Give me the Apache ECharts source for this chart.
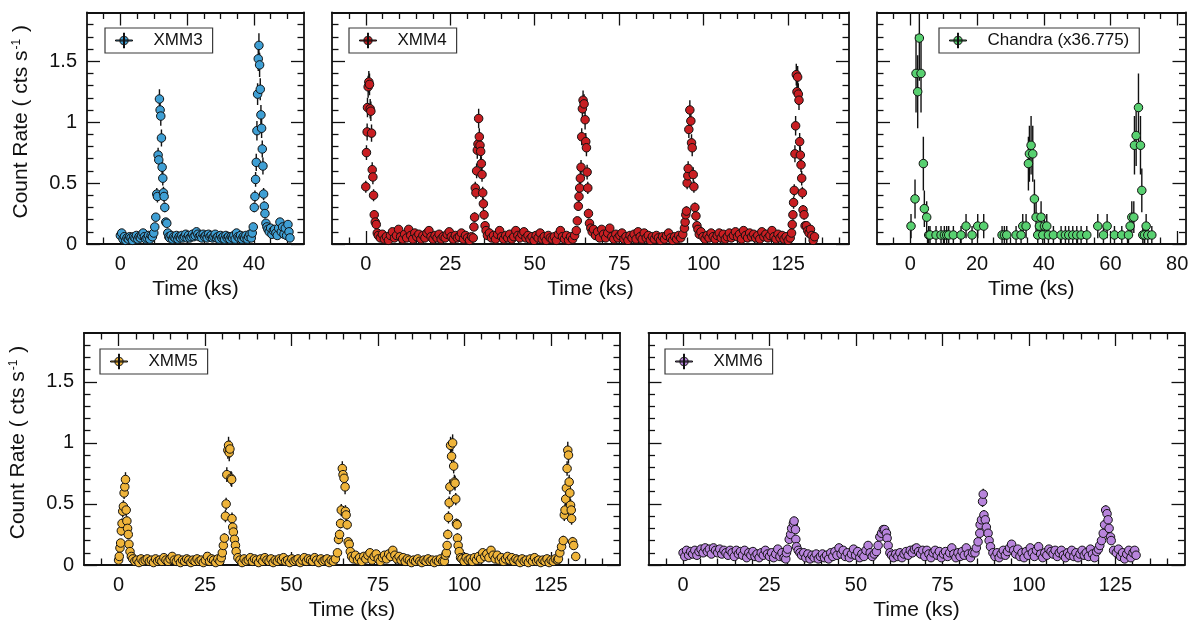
<!DOCTYPE html>
<html><head><meta charset="utf-8">
<script src="https://cdn.jsdelivr.net/npm/echarts@6/dist/echarts.min.js"></script>
<style>html,body{margin:0;padding:0;background:#fff}#c{width:1195px;height:627px}</style>
</head><body><div id="c"></div>
<script>
// ---------------- data: [time (ks), count rate, error] ----------------
const xmm3 = [
[0.0,0.07,0.02],[0.4,0.09,0.02],[0.8,0.04,0.02],[1.2,0.06,0.02],[1.6,0.03,0.02],[2.0,0.05,0.02],[2.4,0.04,0.02],[2.8,0.06,0.02],[3.2,0.05,0.02],[3.6,0.03,0.02],[4.0,0.06,0.02],[4.4,0.05,0.02],[4.8,0.07,0.02],[5.2,0.04,0.02],[5.6,0.06,0.02],[6.0,0.05,0.02],[6.4,0.07,0.02],[6.8,0.09,0.02],[7.2,0.06,0.02],[7.6,0.04,0.02],[8.0,0.05,0.02],[8.4,0.07,0.02],[8.8,0.04,0.02],[9.2,0.07,0.02],[9.6,0.06,0.02],
[10.0,0.09,0.02],[10.3,0.14,0.03],[10.6,0.22,0.03],[10.9,0.41,0.05],[11.1,0.39,0.05],[11.3,0.73,0.06],[11.5,0.69,0.06],[11.7,1.19,0.08],[11.9,1.10,0.08],[12.1,1.05,0.08],[12.3,0.87,0.07],[12.5,0.63,0.06],[12.7,0.54,0.06],[12.9,0.42,0.05],[13.1,0.39,0.05],[13.3,0.30,0.04],[13.6,0.18,0.03],[13.9,0.17,0.03],[14.2,0.09,0.02],[14.5,0.06,0.02],
[14.8,0.05,0.02],[15.2,0.07,0.02],[15.6,0.04,0.02],[16.0,0.06,0.02],[16.4,0.05,0.02],[16.8,0.07,0.02],[17.2,0.04,0.02],[17.6,0.06,0.02],[18.0,0.05,0.02],[18.4,0.07,0.02],[18.8,0.05,0.02],[19.2,0.06,0.02],[19.6,0.08,0.02],[20.0,0.05,0.02],[20.4,0.07,0.02],[20.8,0.05,0.02],[21.2,0.06,0.02],[21.6,0.08,0.02],[22.0,0.06,0.02],[22.4,0.07,0.02],[22.8,0.10,0.02],[23.2,0.08,0.02],[23.6,0.06,0.02],[24.0,0.07,0.02],[24.4,0.05,0.02],[24.8,0.08,0.02],[25.2,0.06,0.02],[25.6,0.07,0.02],[26.0,0.05,0.02],[26.4,0.08,0.02],[26.8,0.06,0.02],[27.2,0.07,0.02],[27.6,0.05,0.02],[28.0,0.06,0.02],[28.4,0.08,0.02],[28.8,0.05,0.02],[29.2,0.06,0.02],[29.6,0.04,0.02],[30.0,0.07,0.02],[30.4,0.05,0.02],[30.8,0.06,0.02],[31.2,0.04,0.02],[31.6,0.07,0.02],[32.0,0.05,0.02],[32.4,0.06,0.02],[32.8,0.04,0.02],[33.2,0.06,0.02],[33.6,0.05,0.02],[34.0,0.07,0.02],[34.4,0.04,0.02],[34.8,0.09,0.02],[35.2,0.06,0.02],[35.6,0.05,0.02],[36.0,0.07,0.02],[36.4,0.04,0.02],[36.8,0.06,0.02],[37.2,0.05,0.02],[37.6,0.07,0.02],[38.0,0.04,0.02],[38.4,0.06,0.02],[38.8,0.08,0.02],[39.2,0.05,0.02],[39.5,0.09,0.02],
[39.8,0.14,0.03],[40.1,0.30,0.04],[40.3,0.39,0.05],[40.5,0.53,0.06],[40.7,0.67,0.07],[40.9,0.93,0.08],[41.1,1.23,0.09],[41.3,1.52,0.10],[41.5,1.63,0.10],[41.7,1.47,0.10],[41.9,1.27,0.09],[42.1,1.06,0.08],[42.3,0.95,0.08],[42.5,0.78,0.07],[42.7,0.64,0.07],[42.9,0.41,0.05],[43.1,0.31,0.04],[43.3,0.25,0.04],[43.6,0.17,0.03],[43.9,0.14,0.03],
[44.2,0.12,0.03],[44.6,0.10,0.03],[45.0,0.13,0.03],[45.4,0.08,0.02],[45.8,0.11,0.03],[46.2,0.12,0.03],[46.6,0.09,0.02],[47.0,0.07,0.02],[47.4,0.13,0.03],[47.8,0.18,0.03],[48.2,0.10,0.03],[48.6,0.14,0.03],[49.0,0.08,0.02],[49.4,0.13,0.03],[49.8,0.07,0.02],[50.2,0.16,0.03],[50.5,0.10,0.03],[50.8,0.05,0.02]
];

const xmm4 = [
[0.0,0.47,0.05],[0.2,0.75,0.06],[0.4,0.92,0.07],[0.5,1.12,0.08],[0.7,1.29,0.09],[0.9,1.33,0.09],[1.1,1.31,0.09],[1.3,1.11,0.08],[1.5,1.09,0.08],[1.7,0.91,0.07],[1.9,0.61,0.06],[2.1,0.55,0.06],[2.3,0.40,0.05],[2.5,0.24,0.04],[2.8,0.18,0.03],[3.1,0.16,0.03],[3.4,0.09,0.02],
[3.7,0.07,0.02],[4.3,0.05,0.02],[4.9,0.08,0.02],[5.5,0.04,0.02],[6.1,0.06,0.02],[6.7,0.03,0.02],[7.3,0.07,0.02],[7.9,0.10,0.02],[8.5,0.05,0.02],[9.1,0.07,0.02],[9.7,0.12,0.03],[10.3,0.06,0.02],[10.9,0.04,0.02],[11.5,0.08,0.02],[12.1,0.05,0.02],[12.7,0.12,0.03],[13.3,0.07,0.02],[13.9,0.04,0.02],[14.5,0.09,0.02],[15.1,0.06,0.02],[15.7,0.08,0.02],[16.3,0.04,0.02],[16.9,0.07,0.02],[17.5,0.05,0.02],[18.1,0.09,0.02],[18.7,0.11,0.03],[19.3,0.06,0.02],[19.9,0.04,0.02],[20.5,0.07,0.02],[21.1,0.05,0.02],[21.7,0.08,0.02],[22.3,0.04,0.02],[22.9,0.06,0.02],[23.5,0.05,0.02],[24.1,0.08,0.02],[24.7,0.10,0.02],[25.3,0.06,0.02],[25.9,0.04,0.02],[26.5,0.07,0.02],[27.1,0.05,0.02],[27.7,0.06,0.02],[28.3,0.09,0.02],[28.9,0.04,0.02],[29.5,0.07,0.02],[30.1,0.05,0.02],[30.7,0.03,0.02],[31.3,0.06,0.02],
[31.8,0.05,0.02],[32.0,0.14,0.03],[32.2,0.22,0.04],[32.4,0.46,0.05],[32.6,0.42,0.05],[32.8,0.60,0.06],[33.0,0.77,0.07],[33.2,0.82,0.07],[33.4,1.03,0.08],[33.6,0.88,0.07],[33.8,0.81,0.07],[34.0,0.76,0.07],[34.2,0.66,0.06],[34.4,0.57,0.06],[34.6,0.42,0.05],[34.8,0.33,0.05],[35.0,0.24,0.04],[35.3,0.15,0.03],[35.6,0.11,0.03],[36.0,0.07,0.02],
[36.6,0.09,0.02],[37.2,0.05,0.02],[37.8,0.07,0.02],[38.4,0.04,0.02],[39.0,0.08,0.02],[39.6,0.11,0.03],[40.2,0.06,0.02],[40.8,0.04,0.02],[41.4,0.07,0.02],[42.0,0.05,0.02],[42.6,0.08,0.02],[43.2,0.04,0.02],[43.8,0.06,0.02],[44.4,0.11,0.03],[45.0,0.07,0.02],[45.6,0.05,0.02],[46.2,0.08,0.02],[46.8,0.10,0.02],[47.4,0.05,0.02],[48.0,0.07,0.02],[48.6,0.04,0.02],[49.2,0.06,0.02],[49.8,0.03,0.02],[50.4,0.07,0.02],[51.0,0.05,0.02],[51.6,0.09,0.02],[52.2,0.04,0.02],[52.8,0.06,0.02],[53.4,0.03,0.02],[54.0,0.07,0.02],[54.6,0.05,0.02],[55.2,0.04,0.02],[55.8,0.06,0.02],[56.4,0.03,0.02],[57.0,0.08,0.02],[57.6,0.11,0.03],[58.2,0.06,0.02],[58.8,0.04,0.02],[59.4,0.07,0.02],[60.0,0.03,0.02],[60.6,0.06,0.02],[61.2,0.04,0.02],[61.8,0.07,0.02],
[62.3,0.11,0.03],[62.6,0.19,0.03],[62.9,0.31,0.04],[63.1,0.39,0.05],[63.3,0.46,0.05],[63.5,0.54,0.06],[63.7,0.63,0.06],[63.9,0.88,0.07],[64.1,1.11,0.08],[64.3,1.18,0.08],[64.6,1.15,0.08],[64.9,1.02,0.08],[65.1,0.84,0.07],[65.3,0.79,0.07],[65.5,0.59,0.06],[65.7,0.46,0.05],[65.9,0.25,0.04],[66.2,0.17,0.03],[66.6,0.13,0.03],[67.0,0.10,0.02],
[67.4,0.12,0.03],[68.0,0.07,0.02],[68.6,0.10,0.02],[69.2,0.05,0.02],[69.8,0.12,0.03],[70.4,0.08,0.02],[71.0,0.05,0.02],[71.6,0.09,0.02],[72.2,0.13,0.03],[72.8,0.06,0.02],[73.4,0.04,0.02],[74.0,0.08,0.02],[74.6,0.05,0.02],[75.2,0.07,0.02],[75.8,0.09,0.02],[76.4,0.04,0.02],[77.0,0.06,0.02],[77.6,0.03,0.02],[78.2,0.07,0.02],[78.8,0.05,0.02],[79.4,0.08,0.02],[80.0,0.04,0.02],[80.6,0.10,0.02],[81.2,0.06,0.02],[81.8,0.04,0.02],[82.4,0.09,0.02],[83.0,0.05,0.02],[83.6,0.07,0.02],[84.2,0.03,0.02],[84.8,0.06,0.02],[85.4,0.04,0.02],[86.0,0.07,0.02],[86.6,0.05,0.02],[87.2,0.03,0.02],[87.8,0.06,0.02],[88.4,0.04,0.02],[89.0,0.07,0.02],[89.6,0.09,0.02],[90.2,0.05,0.02],[90.8,0.03,0.02],[91.4,0.06,0.02],[92.0,0.04,0.02],[92.6,0.07,0.02],[93.2,0.05,0.02],[93.8,0.08,0.02],
[94.3,0.13,0.03],[94.5,0.18,0.03],[94.7,0.24,0.04],[94.9,0.27,0.04],[95.1,0.50,0.05],[95.3,0.56,0.06],[95.4,0.62,0.06],[95.6,0.94,0.07],[95.9,1.10,0.08],[96.2,1.01,0.08],[96.4,0.83,0.07],[96.6,0.79,0.07],[96.9,0.57,0.06],[97.1,0.47,0.05],[97.4,0.30,0.04],[97.7,0.23,0.04],[98.0,0.15,0.03],[98.3,0.12,0.03],[98.7,0.08,0.02],
[99.2,0.10,0.02],[99.8,0.06,0.02],[100.4,0.04,0.02],[101.0,0.07,0.02],[101.6,0.05,0.02],[102.2,0.09,0.02],[102.8,0.06,0.02],[103.4,0.04,0.02],[104.0,0.07,0.02],[104.6,0.09,0.02],[105.2,0.05,0.02],[105.8,0.08,0.02],[106.4,0.04,0.02],[107.0,0.06,0.02],[107.6,0.09,0.02],[108.2,0.05,0.02],[108.8,0.07,0.02],[109.4,0.10,0.02],[110.0,0.06,0.02],[110.6,0.08,0.02],[111.2,0.04,0.02],[111.8,0.11,0.03],[112.4,0.07,0.02],[113.0,0.05,0.02],[113.6,0.09,0.02],[114.2,0.06,0.02],[114.8,0.08,0.02],[115.4,0.05,0.02],[116.0,0.07,0.02],[116.6,0.04,0.02],[117.2,0.10,0.02],[117.8,0.06,0.02],[118.4,0.08,0.02],[119.0,0.05,0.02],[119.6,0.07,0.02],[120.2,0.11,0.03],[120.8,0.06,0.02],[121.4,0.04,0.02],[122.0,0.08,0.02],[122.6,0.05,0.02],[123.2,0.07,0.02],[123.8,0.04,0.02],[124.4,0.06,0.02],[125.0,0.03,0.02],[125.6,0.05,0.02],
[126.0,0.09,0.02],[126.2,0.16,0.03],[126.4,0.24,0.04],[126.6,0.34,0.05],[126.8,0.44,0.05],[127.0,0.74,0.07],[127.2,0.97,0.08],[127.4,1.39,0.09],[127.6,1.25,0.09],[127.8,1.37,0.09],[128.0,1.23,0.09],[128.2,1.18,0.08],[128.4,0.84,0.07],[128.6,0.73,0.07],[128.8,0.65,0.06],[129.0,0.54,0.06],[129.2,0.42,0.05],[129.4,0.28,0.04],[129.7,0.24,0.04],[130.0,0.15,0.03],[130.4,0.15,0.03],[130.8,0.11,0.03],[131.2,0.09,0.02],[131.6,0.12,0.03],[132.0,0.07,0.02],[132.4,0.03,0.02],[132.8,0.06,0.02]
];

const chandra = [
[0.2,0.147,0.10],[1.4,0.37,0.16],[1.7,1.40,0.32],[2.2,1.25,0.30],[2.7,1.69,0.35],[3.2,1.40,0.32],[3.9,0.66,0.22],[4.2,0.29,0.15],[4.9,0.22,0.13],[5.5,0.074,0.074],[5.9,0.074,0.074],[7.7,0.074,0.074],[9.2,0.074,0.074],[10.2,0.074,0.074],[10.9,0.074,0.074],[11.5,0.074,0.074],[12.9,0.074,0.074],[15.2,0.074,0.074],[16.7,0.147,0.10],[18.5,0.074,0.074],[20.2,0.147,0.10],[22.0,0.147,0.10],
[27.5,0.074,0.074],[28.2,0.074,0.074],[28.9,0.074,0.074],[31.7,0.074,0.074],[33.2,0.074,0.074],[33.7,0.147,0.10],[34.7,0.147,0.10],[35.4,0.66,0.22],[35.7,0.74,0.23],[36.2,0.81,0.24],[36.7,0.74,0.23],[37.2,0.37,0.16],[37.7,0.22,0.13],[38.2,0.074,0.074],[38.7,0.147,0.10],[39.2,0.22,0.13],[39.7,0.074,0.074],[40.2,0.147,0.10],[40.9,0.147,0.10],[41.4,0.074,0.074],[42.9,0.074,0.074],[45.2,0.074,0.074],[46.5,0.074,0.074],[47.5,0.074,0.074],[48.7,0.074,0.074],[49.9,0.074,0.074],[51.2,0.074,0.074],[52.9,0.074,0.074],
[56.2,0.147,0.10],[57.9,0.074,0.074],[59.0,0.147,0.10],[61.2,0.074,0.074],[63.4,0.074,0.074],[65.4,0.074,0.074],[65.9,0.147,0.10],[66.4,0.22,0.13],[67.0,0.22,0.13],[67.2,0.81,0.24],[67.7,0.89,0.25],[68.4,1.12,0.28],[69.0,0.81,0.24],[69.4,0.44,0.18],[69.7,0.074,0.074],[70.2,0.074,0.074],[70.7,0.147,0.10],[71.2,0.074,0.074],[72.4,0.074,0.074]
];

const xmm5 = [
[0.0,0.04,0.02],[0.2,0.07,0.02],[0.4,0.14,0.03],[0.6,0.18,0.03],[0.8,0.28,0.04],[1.0,0.34,0.04],[1.2,0.44,0.05],[1.4,0.48,0.05],[1.6,0.59,0.05],[1.8,0.64,0.06],[2.0,0.70,0.06],[2.2,0.45,0.05],[2.4,0.36,0.04],[2.6,0.30,0.04],[2.8,0.25,0.04],[3.0,0.17,0.03],[3.3,0.11,0.03],[3.7,0.07,0.02],
[4.1,0.05,0.02],[4.7,0.03,0.02],[5.3,0.04,0.02],[5.9,0.02,0.02],[6.5,0.05,0.02],[7.1,0.03,0.02],[7.7,0.04,0.02],[8.3,0.05,0.02],[8.9,0.03,0.02],[9.5,0.04,0.02],[10.1,0.02,0.02],[10.7,0.05,0.02],[11.3,0.03,0.02],[11.9,0.04,0.02],[12.5,0.03,0.02],[13.1,0.06,0.02],[13.7,0.04,0.02],[14.3,0.03,0.02],[14.9,0.05,0.02],[15.5,0.07,0.02],[16.1,0.04,0.02],[16.7,0.03,0.02],[17.3,0.05,0.02],[17.9,0.02,0.02],[18.5,0.04,0.02],[19.1,0.03,0.02],[19.7,0.05,0.02],[20.3,0.04,0.02],[20.9,0.02,0.02],[21.5,0.04,0.02],[22.1,0.03,0.02],[22.7,0.05,0.02],[23.3,0.03,0.02],[23.9,0.04,0.02],[24.5,0.02,0.02],[25.1,0.04,0.02],[25.7,0.07,0.02],[26.3,0.03,0.02],[26.9,0.05,0.02],[27.5,0.04,0.02],[28.1,0.02,0.02],[28.7,0.05,0.02],[29.3,0.03,0.02],[29.7,0.06,0.02],
[30.0,0.10,0.03],[30.3,0.16,0.03],[30.6,0.22,0.04],[30.9,0.40,0.05],[31.1,0.50,0.05],[31.3,0.74,0.06],[31.6,0.94,0.07],[31.8,0.98,0.07],[32.0,0.92,0.07],[32.2,0.95,0.07],[32.5,0.71,0.06],[32.7,0.70,0.06],[32.8,0.38,0.05],[33.0,0.31,0.04],[33.2,0.27,0.04],[33.5,0.21,0.04],[33.8,0.16,0.03],[34.0,0.11,0.03],[34.5,0.06,0.02],
[35.1,0.04,0.02],[35.7,0.02,0.02],[36.3,0.05,0.02],[36.9,0.03,0.02],[37.5,0.04,0.02],[38.1,0.06,0.02],[38.7,0.03,0.02],[39.3,0.05,0.02],[39.9,0.04,0.02],[40.5,0.02,0.02],[41.1,0.05,0.02],[41.7,0.03,0.02],[42.3,0.06,0.02],[42.9,0.04,0.02],[43.5,0.03,0.02],[44.1,0.05,0.02],[44.7,0.02,0.02],[45.3,0.04,0.02],[45.9,0.03,0.02],[46.5,0.05,0.02],[47.1,0.04,0.02],[47.7,0.06,0.02],[48.3,0.03,0.02],[48.9,0.04,0.02],[49.5,0.02,0.02],[50.1,0.05,0.02],[50.7,0.03,0.02],[51.3,0.04,0.02],[51.9,0.05,0.02],[52.5,0.02,0.02],[53.1,0.04,0.02],[53.7,0.06,0.02],[54.3,0.03,0.02],[54.9,0.05,0.02],[55.5,0.04,0.02],[56.1,0.03,0.02],[56.7,0.06,0.02],[57.3,0.04,0.02],[57.9,0.02,0.02],[58.5,0.05,0.02],[59.1,0.03,0.02],[59.7,0.04,0.02],[60.3,0.05,0.02],[60.9,0.02,0.02],[61.5,0.04,0.02],[62.1,0.03,0.02],[62.7,0.05,0.02],
[63.3,0.10,0.03],[63.6,0.21,0.04],[63.9,0.25,0.04],[64.2,0.34,0.04],[64.4,0.45,0.05],[64.7,0.79,0.06],[64.9,0.74,0.06],[65.2,0.71,0.06],[65.5,0.64,0.06],[65.6,0.44,0.05],[65.8,0.41,0.05],[66.1,0.33,0.04],[66.4,0.19,0.03],[66.7,0.17,0.03],[67.0,0.11,0.03],[67.4,0.07,0.02],
[67.9,0.05,0.02],[68.5,0.08,0.02],[69.1,0.04,0.02],[69.7,0.06,0.02],[70.3,0.03,0.02],[70.9,0.07,0.02],[71.5,0.05,0.02],[72.1,0.08,0.02],[72.7,0.10,0.02],[73.3,0.04,0.02],[73.9,0.07,0.02],[74.5,0.09,0.02],[75.1,0.05,0.02],[75.7,0.03,0.02],[76.3,0.06,0.02],[76.9,0.08,0.02],[77.5,0.05,0.02],[78.1,0.09,0.02],[78.7,0.07,0.02],[79.3,0.12,0.03],[79.9,0.08,0.02],[80.5,0.05,0.02],[81.1,0.07,0.02],[81.7,0.04,0.02],[82.3,0.06,0.02],[82.9,0.03,0.02],[83.5,0.05,0.02],[84.1,0.04,0.02],[84.7,0.02,0.02],[85.3,0.04,0.02],[85.9,0.03,0.02],[86.5,0.05,0.02],[87.1,0.03,0.02],[87.7,0.02,0.02],[88.3,0.04,0.02],[88.9,0.03,0.02],[89.5,0.05,0.02],[90.1,0.03,0.02],[90.7,0.04,0.02],[91.3,0.02,0.02],[91.9,0.04,0.02],[92.5,0.03,0.02],[93.1,0.05,0.02],[93.7,0.03,0.02],
[94.2,0.03,0.02],[94.5,0.08,0.02],[94.8,0.10,0.03],[95.0,0.16,0.03],[95.2,0.25,0.04],[95.4,0.39,0.05],[95.6,0.51,0.05],[95.8,0.64,0.06],[96.0,0.98,0.07],[96.3,0.89,0.07],[96.6,1.00,0.07],[96.9,0.81,0.06],[97.1,0.68,0.06],[97.3,0.67,0.06],[97.5,0.54,0.05],[97.7,0.34,0.04],[97.9,0.33,0.04],[98.0,0.22,0.04],[98.2,0.16,0.03],[98.5,0.11,0.03],[98.9,0.06,0.02],
[99.3,0.05,0.02],[99.9,0.03,0.02],[100.5,0.06,0.02],[101.1,0.04,0.02],[101.7,0.05,0.02],[102.3,0.03,0.02],[102.9,0.06,0.02],[103.5,0.04,0.02],[104.1,0.07,0.02],[104.7,0.05,0.02],[105.3,0.10,0.02],[105.9,0.07,0.02],[106.5,0.09,0.02],[107.1,0.06,0.02],[107.7,0.12,0.03],[108.3,0.08,0.02],[108.9,0.05,0.02],[109.5,0.08,0.02],[110.1,0.04,0.02],[110.7,0.06,0.02],[111.3,0.03,0.02],[111.9,0.05,0.02],[112.5,0.07,0.02],[113.1,0.04,0.02],[113.7,0.06,0.02],[114.3,0.03,0.02],[114.9,0.05,0.02],[115.5,0.04,0.02],[116.1,0.02,0.02],[116.7,0.05,0.02],[117.3,0.03,0.02],[117.9,0.04,0.02],[118.5,0.02,0.02],[119.1,0.05,0.02],[119.7,0.03,0.02],[120.3,0.06,0.02],[120.9,0.03,0.02],[121.5,0.04,0.02],[122.1,0.02,0.02],[122.7,0.04,0.02],[123.3,0.03,0.02],[123.9,0.05,0.02],[124.5,0.02,0.02],[125.1,0.04,0.02],[125.7,0.03,0.02],[126.3,0.05,0.02],[126.9,0.04,0.02],
[127.2,0.05,0.02],[127.6,0.10,0.03],[128.1,0.15,0.03],[128.6,0.20,0.04],[128.9,0.41,0.05],[129.1,0.45,0.05],[129.3,0.54,0.05],[129.5,0.63,0.06],[129.7,0.79,0.06],[129.9,0.94,0.07],[130.1,0.90,0.07],[130.3,0.68,0.06],[130.5,0.59,0.06],[130.7,0.49,0.05],[130.9,0.45,0.05],[131.0,0.38,0.05],[131.3,0.19,0.04],[131.6,0.16,0.03],[132.2,0.07,0.02]
];

const xmm6 = [
[0.0,0.10,0.025],[0.5,0.07,0.025],[1.0,0.12,0.025],[1.6,0.08,0.025],[2.2,0.11,0.025],[2.8,0.09,0.025],[3.4,0.12,0.025],[4.0,0.08,0.025],[4.6,0.11,0.025],[5.2,0.13,0.025],[5.8,0.10,0.025],[6.4,0.14,0.025],[7.0,0.11,0.025],[7.6,0.13,0.025],[8.2,0.09,0.025],[8.8,0.14,0.025],[9.4,0.12,0.025],[10.0,0.10,0.025],[10.6,0.13,0.025],[11.2,0.09,0.025],[11.8,0.12,0.025],[12.4,0.10,0.025],[13.0,0.08,0.025],[13.6,0.12,0.025],[14.2,0.10,0.025],[14.8,0.07,0.025],[15.4,0.12,0.025],[16.0,0.09,0.025],[16.6,0.11,0.025],[17.2,0.08,0.025],[17.8,0.12,0.025],[18.4,0.06,0.025],[19.0,0.10,0.025],[19.6,0.08,0.025],[20.2,0.11,0.025],[20.8,0.07,0.025],[21.4,0.09,0.025],[22.0,0.06,0.025],[22.6,0.10,0.025],[23.2,0.08,0.025],[23.8,0.12,0.025],[24.4,0.09,0.025],[25.0,0.07,0.025],[25.6,0.10,0.025],[26.2,0.06,0.025],[26.8,0.09,0.025],[27.4,0.13,0.025],[28.0,0.07,0.025],[28.6,0.10,0.025],[29.2,0.06,0.025],
[29.7,0.05,0.025],[29.9,0.10,0.025],[30.2,0.13,0.025],[30.7,0.21,0.03],[31.1,0.25,0.03],[31.4,0.30,0.035],[31.9,0.34,0.035],[32.1,0.36,0.035],[32.5,0.29,0.03],[32.6,0.21,0.03],[32.8,0.15,0.03],[33.3,0.12,0.025],[33.8,0.10,0.025],
[34.3,0.08,0.025],[34.9,0.10,0.025],[35.5,0.06,0.025],[36.1,0.09,0.025],[36.7,0.05,0.025],[37.3,0.08,0.025],[37.9,0.06,0.025],[38.5,0.09,0.025],[39.1,0.05,0.025],[39.7,0.07,0.025],[40.3,0.09,0.025],[40.9,0.06,0.025],[41.5,0.08,0.025],[42.1,0.05,0.025],[42.7,0.10,0.025],[43.3,0.07,0.025],[43.9,0.11,0.025],[44.5,0.08,0.025],[45.1,0.14,0.025],[45.7,0.09,0.025],[46.3,0.12,0.025],[46.9,0.07,0.025],[47.5,0.10,0.025],[48.1,0.06,0.025],[48.7,0.09,0.025],[49.3,0.13,0.025],[49.9,0.08,0.025],[50.5,0.11,0.025],[51.1,0.06,0.025],[51.7,0.09,0.025],[52.3,0.07,0.025],[52.9,0.12,0.025],[53.5,0.16,0.03],[54.1,0.10,0.025],[54.7,0.07,0.025],[55.3,0.09,0.025],
[55.9,0.11,0.025],[56.4,0.16,0.03],[56.9,0.23,0.03],[57.4,0.26,0.03],[57.9,0.29,0.035],[58.3,0.29,0.035],[58.8,0.26,0.03],[59.0,0.22,0.03],[59.3,0.16,0.03],[59.8,0.10,0.025],
[60.3,0.08,0.025],[60.9,0.06,0.025],[61.5,0.09,0.025],[62.1,0.07,0.025],[62.7,0.10,0.025],[63.3,0.06,0.025],[63.9,0.09,0.025],[64.5,0.11,0.025],[65.1,0.08,0.025],[65.7,0.12,0.025],[66.3,0.10,0.025],[66.9,0.13,0.025],[67.5,0.14,0.025],[68.1,0.11,0.025],[68.7,0.09,0.025],[69.3,0.12,0.025],[69.9,0.07,0.025],[70.5,0.12,0.025],[71.1,0.09,0.025],[71.7,0.06,0.025],[72.3,0.10,0.025],[72.9,0.12,0.025],[73.5,0.08,0.025],[74.1,0.11,0.025],[74.7,0.06,0.025],[75.3,0.09,0.025],[75.9,0.11,0.025],[76.5,0.07,0.025],[77.1,0.10,0.025],[77.7,0.14,0.025],[78.3,0.09,0.025],[78.9,0.06,0.025],[79.5,0.10,0.025],[80.1,0.07,0.025],[80.7,0.11,0.025],[81.3,0.08,0.025],[81.9,0.14,0.025],[82.5,0.09,0.025],[83.1,0.06,0.025],[83.7,0.10,0.025],
[84.4,0.10,0.025],[84.8,0.14,0.025],[85.3,0.19,0.03],[85.8,0.26,0.03],[85.9,0.33,0.035],[86.3,0.37,0.035],[86.6,0.52,0.045],[86.8,0.58,0.045],[87.0,0.41,0.04],[87.4,0.37,0.035],[87.7,0.31,0.035],[88.2,0.26,0.03],[88.5,0.20,0.03],[88.9,0.15,0.025],[89.6,0.10,0.025],
[90.2,0.07,0.025],[90.8,0.10,0.025],[91.4,0.06,0.025],[92.0,0.09,0.025],[92.6,0.12,0.025],[93.2,0.08,0.025],[93.8,0.11,0.025],[94.4,0.14,0.025],[95.0,0.17,0.03],[95.6,0.12,0.025],[96.2,0.09,0.025],[96.8,0.13,0.025],[97.4,0.07,0.025],[98.0,0.10,0.025],[98.6,0.06,0.025],[99.2,0.11,0.025],[99.8,0.08,0.025],[100.4,0.14,0.025],[101.0,0.10,0.025],[101.6,0.07,0.025],[102.2,0.12,0.025],[102.8,0.15,0.03],[103.4,0.09,0.025],[104.0,0.06,0.025],[104.6,0.10,0.025],[105.2,0.08,0.025],[105.8,0.13,0.025],[106.4,0.11,0.025],[107.0,0.09,0.025],[107.6,0.12,0.025],[108.2,0.07,0.025],[108.8,0.10,0.025],[109.4,0.12,0.025],[110.0,0.08,0.025],[110.6,0.06,0.025],[111.2,0.10,0.025],[111.8,0.08,0.025],[112.4,0.12,0.025],[113.0,0.07,0.025],[113.6,0.10,0.025],[114.2,0.06,0.025],[114.8,0.09,0.025],[115.4,0.12,0.025],[116.0,0.08,0.025],[116.6,0.10,0.025],[117.2,0.07,0.025],[117.8,0.13,0.025],[118.4,0.09,0.025],[119.0,0.06,0.025],[119.6,0.11,0.025],[120.1,0.13,0.025],
[120.5,0.16,0.03],[121.0,0.20,0.03],[121.5,0.26,0.03],[121.9,0.33,0.035],[122.2,0.45,0.04],[122.6,0.42,0.04],[122.9,0.37,0.035],[123.2,0.30,0.035],[123.6,0.23,0.03],[123.8,0.20,0.03],[124.5,0.12,0.025],[125.3,0.10,0.025],
[125.9,0.13,0.025],[126.5,0.07,0.025],[127.1,0.10,0.025],[127.7,0.05,0.025],[128.3,0.09,0.025],[128.9,0.12,0.025],[129.5,0.06,0.025],[130.1,0.10,0.025],[130.6,0.12,0.025],[131.0,0.08,0.025]
];

// ---------------- tick values ----------------
const yTickLabels = [0, 0.5, 1, 1.5];
const yMinorTicks = [0.1,0.2,0.3,0.4,0.6,0.7,0.8,0.9,1.1,1.2,1.3,1.4,1.6,1.7,1.8];
const xTicks20 = [0, 20, 40];
const xTicks20b = [0, 20, 40, 60, 80];
const xTicks25 = [0, 25, 50, 75, 100, 125];
const xMinor55 = [-5,5,10,15,25,30,35,45,50];
const xMinor82 = [-5,5,10,15,25,30,35,45,50,55,65,70,75];
const xMinor145 = [-5,5,10,15,20,30,35,40,45,55,60,65,70,80,85,90,95,105,110,115,120,130,135,140];

// ---------------- layout / styling ----------------
const FONT = '"Liberation Sans", Arial, Helvetica, sans-serif';
const INK = '#111';
const ICON = 'path://M0,7 L17,7 L17,8 L0,8 Z M8,0 L9,0 L9,15 L8,15 Z M12.6,7.5 A4.1,4.1 0 1 1 4.4,7.5 A4.1,4.1 0 1 1 12.6,7.5 Z';

const panels = [
  {name:'XMM3', data:xmm3, color:'#3f9fd4', box:[87,12.5,217,231.5], xr:[-10,55], xMajor:xTicks20, xMinor:xMinor55, yLabel:true, legend:[105,28]},
  {name:'XMM4', data:xmm4, color:'#c81e22', box:[332,12.5,517,231.5], xr:[-10,143], xMajor:xTicks25, xMinor:xMinor145.filter(v=>v<143), yLabel:false, legend:[349,28]},
  {name:'Chandra (x36.775)', data:chandra, color:'#58d070', box:[877,12.5,308.5,231.5], xr:[-10,82.5], xMajor:xTicks20b, xMinor:xMinor82, yLabel:false, legend:[939,28]},
  {name:'XMM5', data:xmm5, color:'#efb43a', box:[84,333,536,232], xr:[-10,145], xMajor:xTicks25, xMinor:xMinor145, yLabel:true, legend:[100,349]},
  {name:'XMM6', data:xmm6, color:'#b884dc', box:[648.5,333,536,232], xr:[-10,145], xMajor:xTicks25, xMinor:xMinor145, yLabel:false, legend:[665,349]}
];

const grids = [], xAxes = [], yAxes = [], series = [], legends = [];
const frame = {color: INK, width: 1.8};
const tickMajor = {color: INK, width: 1.3};

function errRender(params, api) {
  const t = api.value(0), v = api.value(1), e = api.value(2);
  const a = api.coord([t, v - e]), b = api.coord([t, v + e]);
  return {type:'line', shape:{x1:a[0], y1:a[1], x2:b[0], y2:b[1]}, style:{stroke:'#111', lineWidth:1.4}};
}

panels.forEach((p, gi) => {
  grids.push({left:p.box[0], top:p.box[1], width:p.box[2], height:p.box[3], containLabel:false, outerBoundsMode:'none'});
  const xi = xAxes.length, yi = yAxes.length;
  const xb = {type:'value', gridIndex:gi, min:p.xr[0], max:p.xr[1], splitLine:{show:false}};
  const yb = {type:'value', gridIndex:gi, min:0, max:1.9, splitLine:{show:false}};
  xAxes.push(Object.assign({}, xb, {position:'bottom',
    axisLine:{show:true, onZero:false, lineStyle:frame},
    axisTick:{show:true, inside:true, length:13, customValues:p.xMajor, lineStyle:tickMajor},
    axisLabel:{show:true, customValues:p.xMajor, margin:10, fontSize:20, fontFamily:FONT, color:INK},
    name:'Time (ks)', nameLocation:'middle', nameGap:35,
    nameTextStyle:{fontSize:21, fontFamily:FONT, color:INK}}));
  xAxes.push(Object.assign({}, xb, {position:'bottom', axisLine:{show:false, onZero:false},
    axisTick:{show:true, inside:true, length:6.5, customValues:p.xMinor, lineStyle:tickMajor}, axisLabel:{show:false}}));
  xAxes.push(Object.assign({}, xb, {position:'top', axisLine:{show:true, onZero:false, lineStyle:frame},
    axisTick:{show:true, inside:true, length:13, customValues:p.xMajor, lineStyle:tickMajor}, axisLabel:{show:false}}));
  xAxes.push(Object.assign({}, xb, {position:'top', axisLine:{show:false, onZero:false},
    axisTick:{show:true, inside:true, length:6.5, customValues:p.xMinor, lineStyle:tickMajor}, axisLabel:{show:false}}));
  const left = Object.assign({}, yb, {position:'left',
    axisLine:{show:true, onZero:false, lineStyle:frame},
    axisTick:{show:true, inside:true, length:13, customValues:yTickLabels, lineStyle:tickMajor},
    axisLabel:{show:p.yLabel, customValues:yTickLabels, margin:10, fontSize:20, fontFamily:FONT, color:INK}});
  if (p.yLabel) {
    Object.assign(left, {name:'Count Rate ( cts s{sup|-1} )', nameLocation:'middle', nameRotate:90, nameGap:55,
      nameTextStyle:{fontSize:21, fontFamily:FONT, color:INK, padding:[0,0,0,13],
        rich:{sup:{fontSize:12, fontFamily:FONT, color:INK, verticalAlign:'top', padding:[0,1,0,1]}}}});
  }
  yAxes.push(left);
  yAxes.push(Object.assign({}, yb, {position:'left', axisLine:{show:false, onZero:false},
    axisTick:{show:true, inside:true, length:6.5, customValues:yMinorTicks, lineStyle:tickMajor}, axisLabel:{show:false}}));
  yAxes.push(Object.assign({}, yb, {position:'right', axisLine:{show:true, onZero:false, lineStyle:frame},
    axisTick:{show:true, inside:true, length:13, customValues:yTickLabels, lineStyle:tickMajor}, axisLabel:{show:false}}));
  yAxes.push(Object.assign({}, yb, {position:'right', axisLine:{show:false, onZero:false},
    axisTick:{show:true, inside:true, length:6.5, customValues:yMinorTicks, lineStyle:tickMajor}, axisLabel:{show:false}}));

  series.push({type:'custom', name:p.name + ' err', xAxisIndex:xi, yAxisIndex:yi, data:p.data,
    encode:{x:0, y:1}, renderItem:errRender, clip:true, z:2, silent:true});
  series.push({type:'scatter', name:p.name, xAxisIndex:xi, yAxisIndex:yi,
    data:p.data.map(d => [d[0], d[1]]), symbol:'circle', symbolSize:8.5, clip:true, z:3,
    itemStyle:{color:p.color, borderColor:'#111', borderWidth:1, opacity:1}});
  legends.push({data:[{name:p.name, icon:ICON}], left:p.legend[0], top:p.legend[1], orient:'horizontal',
    borderColor:'#3a3a3a', borderWidth:1.2, padding:[4,10,4,10], itemWidth:17, itemHeight:15,
    selectedMode:false, itemStyle:{color:p.color, borderColor:'#111', borderWidth:1},
    textStyle:{fontSize:17, fontFamily:FONT, color:INK, padding:[0,0,0,16]}});
});

const chart = echarts.init(document.getElementById('c'), null, {renderer:'canvas'});
chart.setOption({
  backgroundColor:'#fff', animation:false,
  grid:grids, xAxis:xAxes, yAxis:yAxes, legend:legends, series:series
});
</script></body></html>
